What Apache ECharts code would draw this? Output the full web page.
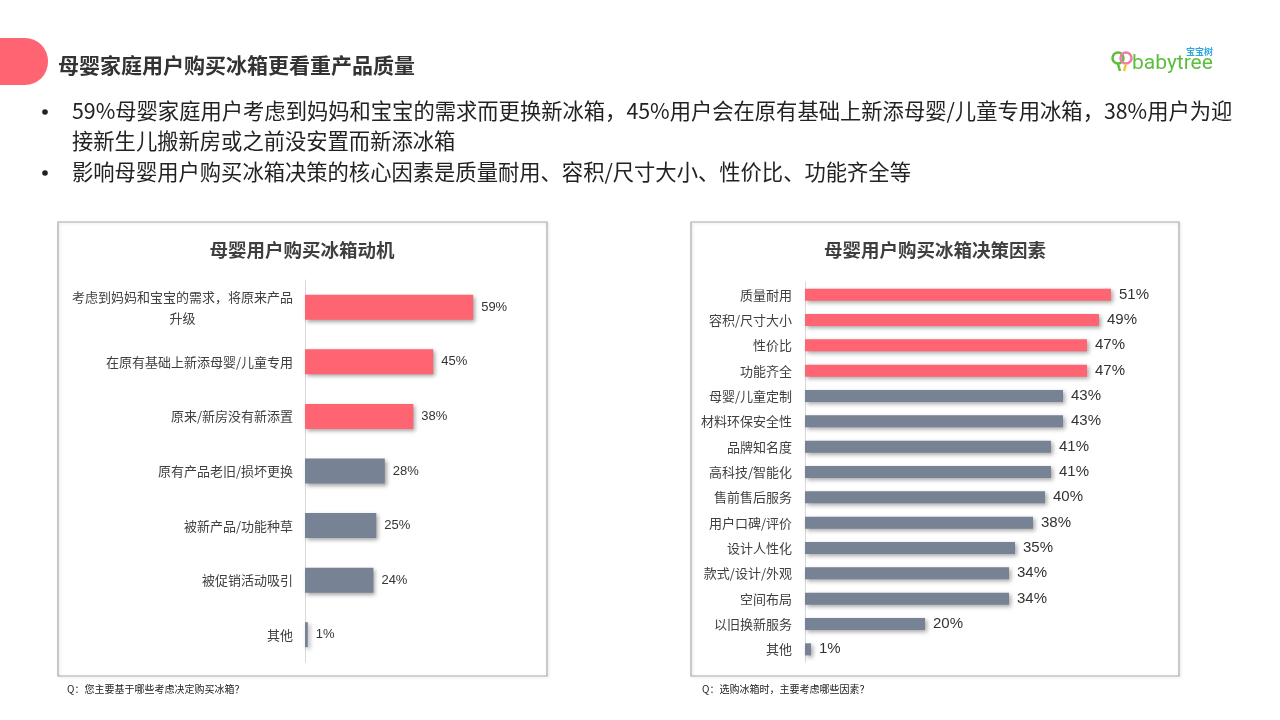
<!DOCTYPE html>
<html>
<head>
<meta charset="utf-8">
<script src="https://cdn.jsdelivr.net/npm/echarts@6/dist/echarts.min.js"></script>
<style>
html,body{margin:0;padding:0;background:#fff;}
#main{width:1280px;height:720px;}
</style>
</head>
<body>
<div id="main"></div>
<script>
// ---- data ----
var motiveCategories = ['考虑到妈妈和宝宝的需求，将原来产品升级', '在原有基础上新添母婴/儿童专用', '原来/新房没有新添置', '原有产品老旧/损坏更换', '被新产品/功能种草', '被促销活动吸引', '其他'];
var motiveValues = [59, 45, 38, 28, 25, 24, 1];
var factorCategories = ['质量耐用', '容积/尺寸大小', '性价比', '功能齐全', '母婴/儿童定制', '材料环保安全性', '品牌知名度', '高科技/智能化', '售前售后服务', '用户口碑/评价', '设计人性化', '款式/设计/外观', '空间布局', '以旧换新服务', '其他'];
var factorValues = [51, 49, 47, 47, 43, 43, 41, 41, 40, 38, 35, 34, 34, 20, 1];

var headline = '母婴家庭用户购买冰箱更看重产品质量';
var bulletLines = [
  '59%母婴家庭用户考虑到妈妈和宝宝的需求而更换新冰箱，45%用户会在原有基础上新添母婴/儿童专用冰箱，38%用户为迎',
  '接新生儿搬新房或之前没安置而新添冰箱',
  '影响母婴用户购买冰箱决策的核心因素是质量耐用、容积/尺寸大小、性价比、功能齐全等'
];
var leftTitle = '母婴用户购买冰箱动机';
var rightTitle = '母婴用户购买冰箱决策因素';
var leftNote = 'Q：您主要基于哪些考虑决定购买冰箱？';
var rightNote = 'Q：选购冰箱时，主要考虑哪些因素？';

// ---- style ----
var RED = '#FF6472', GRAY = '#778295', TXT = '#404040';
var FONT = '"Noto Sans CJK SC", "Noto Sans", sans-serif';

function colored(values, nRed) {
  return values.map(function (v, i) {
    return { value: v, itemStyle: { color: i < nRed ? RED : GRAY } };
  });
}
var barShadow = { shadowColor: 'rgba(0,0,0,0.35)', shadowBlur: 4, shadowOffsetX: 2, shadowOffsetY: 2 };

var chart = echarts.init(document.getElementById('main'));
var option = {
  backgroundColor: '#fff',
  textStyle: { fontFamily: FONT },
  animation: false,
  grid: [
    { left: 305, top: 280, width: 228, height: 382 },
    { left: 805, top: 282, width: 360, height: 380 }
  ],
  xAxis: [
    { type: 'value', gridIndex: 0, min: 0, max: 80, show: false },
    { type: 'value', gridIndex: 1, min: 0, max: 60, show: false }
  ],
  yAxis: [
    {
      type: 'category', gridIndex: 0, inverse: true, data: motiveCategories,
      axisLine: { show: true, lineStyle: { color: '#D9D9D9', width: 1 } },
      axisTick: { show: false },
      axisLabel: {
        margin: 12, fontSize: 13, color: TXT, fontFamily: FONT, lineHeight: 21,
        formatter: function (v) {
          if (v.length > 17) {
            return '{a|' + v.slice(0, 17) + '}\n{b|' + v.slice(17) + '}';
          }
          return v;
        },
        rich: {
          a: { fontSize: 13, color: TXT, lineHeight: 21, align: 'right', fontFamily: FONT },
          b: { fontSize: 13, color: TXT, lineHeight: 21, align: 'center', fontFamily: FONT }
        }
      }
    },
    {
      type: 'category', gridIndex: 1, inverse: true, data: factorCategories,
      axisLine: { show: true, lineStyle: { color: '#D9D9D9', width: 1 } },
      axisTick: { show: false },
      axisLabel: { margin: 13, fontSize: 13, color: TXT, fontFamily: FONT }
    }
  ],
  series: [
    {
      type: 'bar', xAxisIndex: 0, yAxisIndex: 0, barWidth: 25,
      data: colored(motiveValues, 3),
      itemStyle: barShadow,
      label: { show: true, position: 'right', distance: 8, formatter: '{c}%', fontSize: 13, color: '#333', fontFamily: 'Liberation Sans, Arial, sans-serif' }
    },
    {
      type: 'bar', xAxisIndex: 1, yAxisIndex: 1, barWidth: 12,
      data: colored(factorValues, 4),
      itemStyle: barShadow,
      label: { show: true, position: 'right', distance: 8, formatter: '{c}%', fontSize: 15, color: '#333', fontFamily: 'Liberation Sans, Arial, sans-serif' }
    }
  ],
  graphic: [
    // header tab
    { type: 'rect', shape: { x: -20, y: 38, width: 68, height: 47, r: [0, 23, 23, 0] }, style: { fill: RED }, z: 1 },
    { type: 'text', x: 58, y: 65, style: { text: headline, font: 'bold 21px ' + FONT, fill: '#333333', textVerticalAlign: 'middle' } },
    // logo
    { type: 'circle', shape: { cx: 1118, cy: 58, r: 5.5 }, style: { fill: 'none', stroke: '#5BBE3C', lineWidth: 2.5 } },
    { type: 'circle', shape: { cx: 1126, cy: 58, r: 5.5 }, style: { fill: 'none', stroke: '#F07AA8', lineWidth: 2.5 } },
    { type: 'line', shape: { x1: 1118, y1: 64, x2: 1120, y2: 71 }, style: { stroke: '#5BBE3C', lineWidth: 2.5 } },
    { type: 'line', shape: { x1: 1126, y1: 64, x2: 1124, y2: 71 }, style: { stroke: '#F4C430', lineWidth: 2.5 } },
    { type: 'text', x: 1132, y: 64, style: { text: 'babytree', font: '21px Roboto, "Noto Sans", sans-serif', fill: '#5BBE3C', textVerticalAlign: 'middle' } },
    { type: 'text', x: 1213, y: 52, style: { text: '宝宝树', font: 'bold 9px ' + FONT, fill: '#2FA7DE', textAlign: 'right', textVerticalAlign: 'middle' } },
    // bullets
    { type: 'circle', shape: { cx: 45, cy: 112, r: 2.8 }, style: { fill: '#222' } },
    { type: 'text', x: 72, y: 111, style: { text: bulletLines[0], font: '21.3px ' + FONT, fill: '#222', textVerticalAlign: 'middle' } },
    { type: 'text', x: 72, y: 141, style: { text: bulletLines[1], font: '21.3px ' + FONT, fill: '#222', textVerticalAlign: 'middle' } },
    { type: 'circle', shape: { cx: 45, cy: 173, r: 2.8 }, style: { fill: '#222' } },
    { type: 'text', x: 72, y: 172, style: { text: bulletLines[2], font: '21.3px ' + FONT, fill: '#222', textVerticalAlign: 'middle' } },
    // panels
    { type: 'rect', shape: { x: 58, y: 222, width: 489, height: 454 }, style: { fill: 'none', stroke: '#A9ABB3', lineWidth: 1.2, shadowColor: 'rgba(0,0,0,0.15)', shadowBlur: 3, shadowOffsetX: 1, shadowOffsetY: 1 }, z: -1 },
    { type: 'rect', shape: { x: 691, y: 222, width: 488, height: 454 }, style: { fill: 'none', stroke: '#A9ABB3', lineWidth: 1.2, shadowColor: 'rgba(0,0,0,0.15)', shadowBlur: 3, shadowOffsetX: 1, shadowOffsetY: 1 }, z: -1 },
    { type: 'text', x: 302, y: 250, style: { text: leftTitle, font: 'bold 18.5px ' + FONT, fill: '#3F3F3F', textAlign: 'center', textVerticalAlign: 'middle' } },
    { type: 'text', x: 935, y: 250, style: { text: rightTitle, font: 'bold 18.5px ' + FONT, fill: '#3F3F3F', textAlign: 'center', textVerticalAlign: 'middle' } },
    // footnotes
    { type: 'text', x: 67, y: 689, style: { text: leftNote, font: '10px ' + FONT, fill: '#222', textVerticalAlign: 'middle' } },
    { type: 'text', x: 702, y: 689, style: { text: rightNote, font: '10px ' + FONT, fill: '#222', textVerticalAlign: 'middle' } }
  ]
};
chart.setOption(option);
</script>
</body>
</html>
